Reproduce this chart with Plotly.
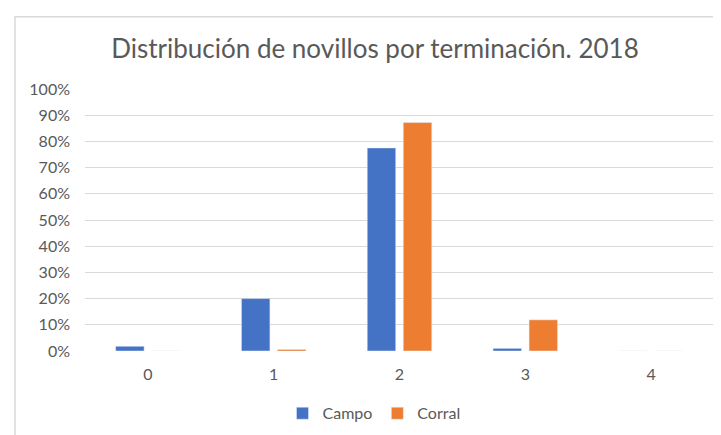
import plotly.graph_objects as go

categories = ["0", "1", "2", "3", "4"]
campo = [0.018, 0.20, 0.775, 0.010, 0.0]
corral = [0.0, 0.006, 0.872, 0.119, 0.0]
y_ticks = [i / 10 for i in range(11)]

W, H = 721, 435
L, R, T, B = 77, 15, 80.5, 88.3
pw, ph = W - L - R, H - T - B

def px_to_paper_x(px):
    return (px - L) / pw

def px_to_paper_y(py):
    return (H - B - py) / ph

fig = go.Figure()
fig.add_trace(go.Bar(x=categories, y=campo, name="Campo", marker_color="#4472C4"))
fig.add_trace(go.Bar(x=categories, y=corral, name="Corral", marker_color="#ED7D31"))

font_fam = "Lato, 'Open Sans', sans-serif"
fig.update_layout(
    width=W, height=H,
    margin=dict(l=L, r=R, t=T, b=B),
    paper_bgcolor="white", plot_bgcolor="white",
    barmode="group", bargap=0.427, bargroupgap=0.21,
    title=dict(text="Distribución de novillos por terminación. 2018",
               x=px_to_paper_x(367), xref="paper", xanchor="center",
               y=1 - 41 / H, yref="container", yanchor="middle",
               font=dict(family=font_fam, size=26, color="#595959")),
    font=dict(family=font_fam, color="#595959", size=16),
    legend=dict(orientation="h", x=px_to_paper_x(366), xanchor="center",
                y=px_to_paper_y(410), yanchor="middle",
                font=dict(size=16, color="#595959"), itemwidth=30,
                tracegroupgap=0),
    showlegend=True,
)
fig.update_yaxes(range=[0, 1], tickvals=y_ticks, tickformat=".0%",
                 showgrid=True, gridcolor="#d9d9d9", gridwidth=1,
                 zeroline=False, showline=False, ticklabelstandoff=14,
                 fixedrange=True)
fig.update_xaxes(showgrid=False, showline=False, zeroline=False,
                 ticklabelstandoff=12, range=[-0.5, 4.5])
fig.add_shape(type="rect", xref="paper", yref="paper",
              x0=px_to_paper_x(7), x1=px_to_paper_x(740),
              y0=px_to_paper_y(460), y1=px_to_paper_y(7),
              line=dict(color="#d9d9d9", width=1.5), fillcolor="rgba(0,0,0,0)",
              layer="below")

fig.write_html("out.html")
